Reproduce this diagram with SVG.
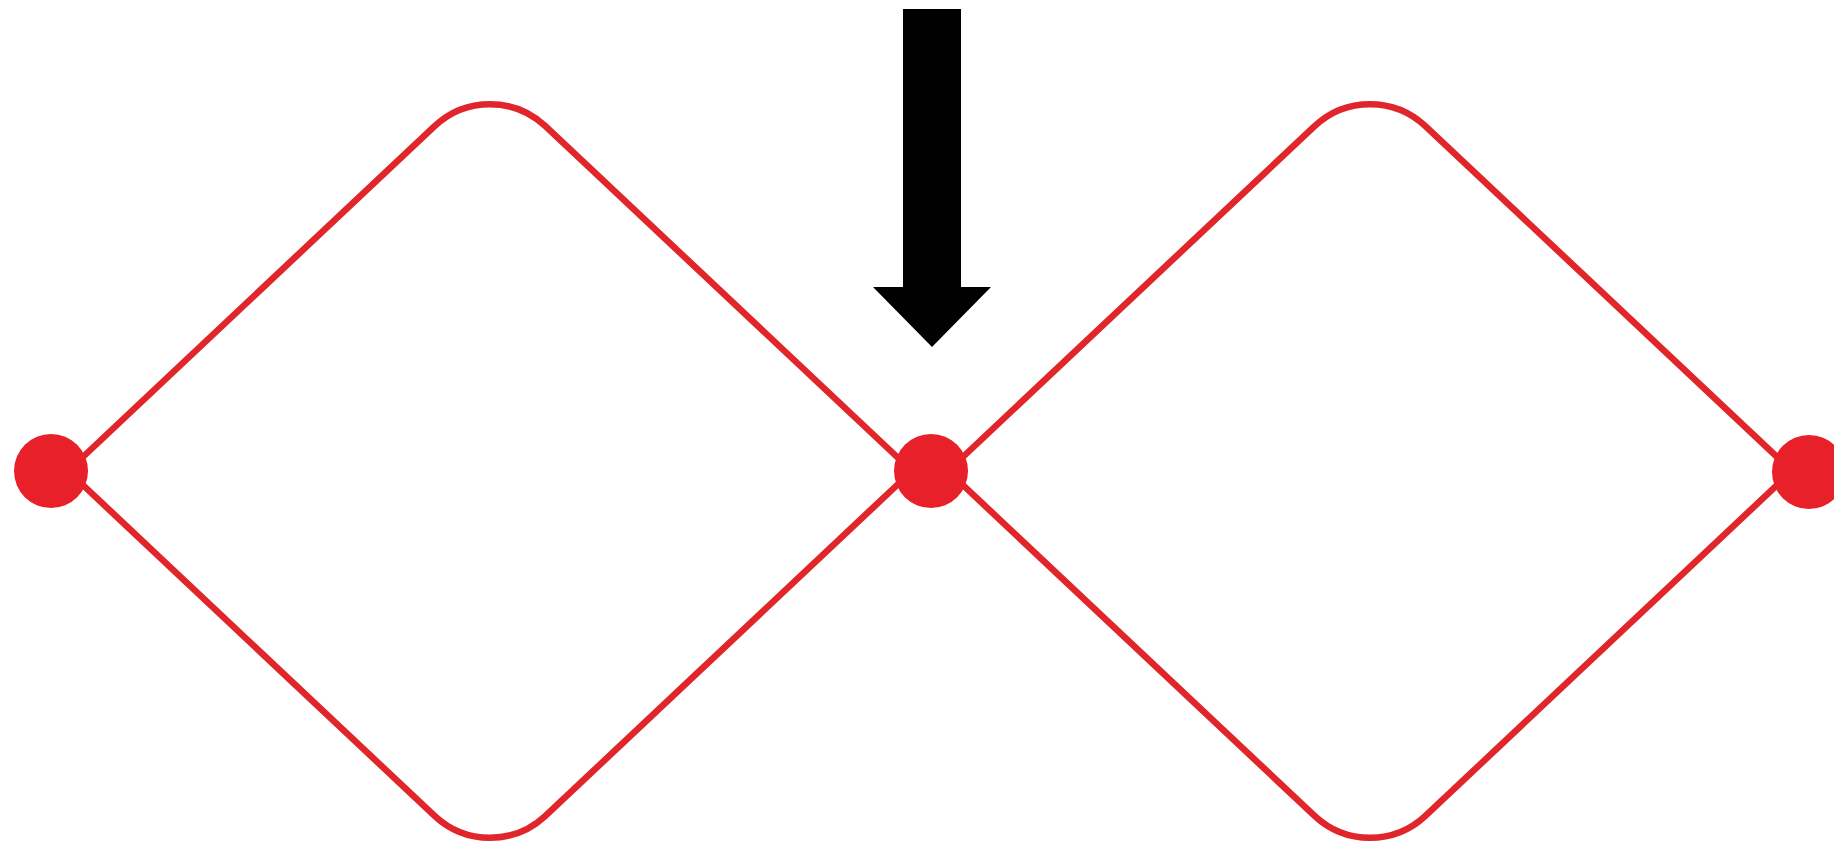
<svg xmlns="http://www.w3.org/2000/svg" width="1834" height="847" viewBox="0 0 1834 847">
<style>
.loop{fill:none;stroke:#e0262b;stroke-width:6.5;stroke-linejoin:round}
.dot{fill:#e8202a}
.arrow{fill:#000}
</style>
<rect width="1834" height="847" fill="#fff"/>
<g id="connectors">
<path id="loop-left" class="loop" d="M68,471 L434.6,126.1 A81,81 0 0 1 545.4,126.1 L912,471 L545.4,815.9 A81,81 0 0 1 434.6,815.9 Z"/>
<path id="loop-right" class="loop" d="M948,471 L1314.6,126.1 A81,81 0 0 1 1425.4,126.1 L1792,471 L1425.4,815.9 A81,81 0 0 1 1314.6,815.9 Z"/>
</g>
<g id="node-left"><circle class="dot" cx="51" cy="471" r="37"/></g>
<g id="node-middle"><circle class="dot" cx="931" cy="471" r="37"/></g>
<g id="node-right"><circle class="dot" cx="1809" cy="472" r="37"/></g>
<g id="arrow"><polygon class="arrow" points="903,9 961,9 961,287 991,287 932,347 873,287 903,287"/></g>
</svg>
